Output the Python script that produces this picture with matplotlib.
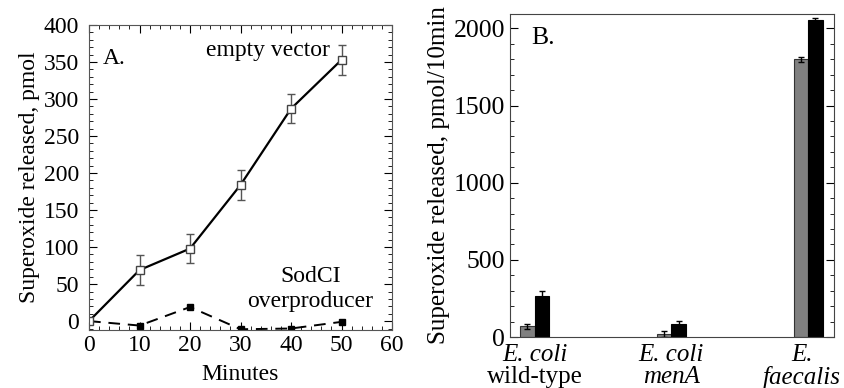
import matplotlib
matplotlib.use("Agg")
import matplotlib.pyplot as plt
from matplotlib.ticker import MultipleLocator

# Panel A data
minutes = [0, 10, 20, 30, 40, 50]
empty_vector = [0, 69, 98, 184, 287, 353]
empty_vector_err = [0, 20, 20, 20, 20, 20]
sodci = [0, -6, 19, -11, -10, -1]

# Panel B data
strains_line1 = ["E. coli", "E. coli", "E."]
strains_line2 = ["wild-type", "menA", "faecalis"]
line2_italic = [False, True, True]
gray_vals = [70, 22, 1800]
gray_err = [15, 20, 15]
black_vals = [266, 87, 2052]
black_err = [30, 20, 15]

plt.rcParams['font.family'] = ['Liberation Serif', 'DejaVu Serif']
FSA = 17
FSB = 18.5

fig = plt.figure(figsize=(8.44, 3.88), dpi=100)

# ---------- Panel A ----------
axA = fig.add_axes([0.1055, 0.1495, 0.359, 0.786])
axA.errorbar(minutes, empty_vector, yerr=empty_vector_err, color='black', lw=1.6,
             marker='s', ms=6, mfc='white', mec='#444444', mew=1,
             ecolor='#555555', elinewidth=1, capsize=3)
axA.plot(minutes, sodci, color='black', lw=1.4, ls=(0, (6, 4)),
         marker='s', ms=5, mfc='black', mec='black')
axA.set_xlim(0, 60)
axA.set_ylim(-12, 400)
axA.xaxis.set_major_locator(MultipleLocator(10))
axA.xaxis.set_minor_locator(MultipleLocator(2))
axA.yaxis.set_major_locator(MultipleLocator(50))
axA.yaxis.set_minor_locator(MultipleLocator(10))
axA.tick_params(which='both', direction='in', top=True, right=True, labelsize=FSA)
axA.tick_params(axis='y', which='major', pad=7)
axA.tick_params(which='major', length=6)
axA.tick_params(which='minor', length=3)
axA.set_xlabel("Minutes", fontsize=FSA, labelpad=6)
axA.set_ylabel("Superoxide released, pmol", fontsize=FSA, labelpad=3)
axA.text(5, 355, "A.", fontsize=FSA, ha='center', va='center')
axA.text(35.4, 366, "empty vector", fontsize=FSA, ha='center', va='center')
axA.text(43.8, 60, "SodCI", fontsize=FSA, ha='center', va='center')
axA.text(43.8, 26, "overproducer", fontsize=FSA, ha='center', va='center')
for s in axA.spines.values():
    s.set_color('#555555')

# ---------- Panel B ----------
axB = fig.add_axes([0.6043, 0.1314, 0.384, 0.8325])
pos = list(range(len(gray_vals)))
w = 0.106
axB.bar([p - w / 2 for p in pos], gray_vals, width=w, color='#808080',
        edgecolor='#333333', lw=0.8, yerr=gray_err, capsize=2.5,
        error_kw=dict(ecolor='black', elinewidth=1))
axB.bar([p + w / 2 for p in pos], black_vals, width=w, color='black',
        edgecolor='black', lw=0.8, yerr=black_err, capsize=2.5,
        error_kw=dict(ecolor='black', elinewidth=1))
axB.set_xlim(-0.18, 2.19)
axB.set_ylim(0, 2093)
axB.yaxis.set_major_locator(MultipleLocator(500))
axB.yaxis.set_minor_locator(MultipleLocator(100))
axB.set_xticks(pos)
axB.set_xticklabels([""] * len(pos))
axB.tick_params(axis='x', length=0)
axB.tick_params(axis='y', which='both', direction='in', right=True, labelsize=FSB)
axB.tick_params(axis='y', which='major', length=6)
axB.tick_params(axis='y', which='minor', length=3)
axB.set_ylabel("Superoxide released, pmol/10min", fontsize=18, labelpad=3)
label_shift = [0.0, 0.0, -0.045]
for p, sh, l1, l2, it in zip(pos, label_shift, strains_line1, strains_line2, line2_italic):
    axB.text(p + sh, -45, l1, fontsize=18, style='italic', ha='center', va='top')
    axB.text(p + sh, -190, l2, fontsize=18, style='italic' if it else 'normal',
             ha='center', va='top')
axB.text(0.06, 1940, "B.", fontsize=FSB, ha='center', va='center')
for s in axB.spines.values():
    s.set_color('#444444')

fig.savefig("out.png", dpi=100)
